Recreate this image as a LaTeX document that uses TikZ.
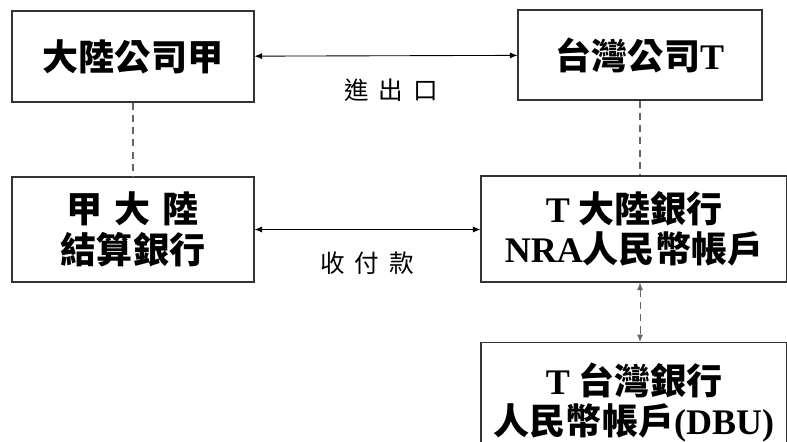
\documentclass[tikz,border=0pt]{standalone}
\usepackage{fontspec}
\usetikzlibrary{arrows.meta}
\setmainfont{Liberation Serif}
\newfontfamily\cjkheavy{Noto Sans CJK TC Black}
\newfontfamily\cjklight{Noto Sans CJK TC}
\newcommand{\latinb}{\fontspec{Liberation Serif}\bfseries}

\begin{document}
\begin{tikzpicture}[x=0.02cm, y=-0.02cm]

    \tikzset{boxstyle/.style={draw=black!80, line width=0.6pt, inner sep=0pt,
                              align=center, font=\cjkheavy\fontsize{20.5}{24}\selectfont},
             labelstyle/.style={font=\cjklight\fontsize{14}{16}\selectfont},
             linkstyle/.style={{Latex[length=1.5mm,width=1.2mm]}-{Latex[length=1.5mm,width=1.2mm]}, line width=0.5pt},
             dashstyle/.style={draw=black!60, line width=0.6pt, dash pattern=on 4pt off 3pt}}

    \useasboundingbox (0,0) rectangle (787,441);
    \clip (0,0) rectangle (787,441);

    \node[boxstyle, minimum width=242*0.02cm, minimum height=91*0.02cm] (cnfirm) at (133, 56.5) {大陸公司甲};
    \node[boxstyle, minimum width=244*0.02cm, minimum height=90*0.02cm] (twfirm) at (640, 55)
        {台灣公司{\latinb T}};

    \node[boxstyle, minimum width=242*0.02cm, minimum height=105*0.02cm] (cnbank) at (133, 229.5)
        {甲\hspace{0.24cm}大\hspace{0.24cm}陸\\[-0.02cm]結算銀行};
    \node[boxstyle, minimum width=306*0.02cm, minimum height=106*0.02cm] (nrabank) at (634, 229)
        {{\latinb T} 大陸銀行\\[-0.04cm]{\latinb NRA}人民幣帳戶};
    \node[boxstyle, minimum width=306*0.02cm, minimum height=120*0.02cm, anchor=north] (dbubank) at (634, 342)
        {{\latinb T} 台灣銀行\\[-0.04cm]人民幣帳戶{\latinb (DBU)}};

    \node[labelstyle] (trade) at (391, 90) {進\hspace{0.2cm}出\hspace{0.2cm}口};
    \node[labelstyle] (pay) at (367, 263) {收\hspace{0.2cm}付\hspace{0.2cm}款};

    \draw[linkstyle] (cnfirm) -- (twfirm);
    \draw[linkstyle] (cnbank) -- (nrabank.west |- cnbank);

    \draw[dashstyle] (cnfirm) -- (cnbank);
    \draw[dashstyle] (twfirm) -- (twfirm |- nrabank.north);
    \draw[dashstyle, linkstyle, draw=black!60] (nrabank.south -| twfirm) -- (dbubank.north -| twfirm);
\end{tikzpicture}
\end{document}
